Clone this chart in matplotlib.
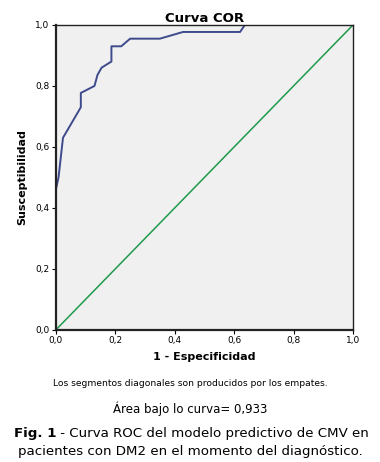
import matplotlib
matplotlib.use("Agg")
import matplotlib.pyplot as plt

# ROC curve points
fpr = [0.0, 0.0, 0.009, 0.024, 0.084, 0.084, 0.13, 0.14, 0.154, 0.187, 0.187,
       0.22, 0.25, 0.35, 0.428, 0.62, 0.636, 1.0]
tpr = [0.0, 0.46, 0.50, 0.63, 0.73, 0.777, 0.80, 0.836, 0.86, 0.88, 0.93,
       0.93, 0.955, 0.955, 0.977, 0.977, 1.0, 1.0]
ref_line = [0.0, 1.0]
ticks = [0.0, 0.2, 0.4, 0.6, 0.8, 1.0]
tick_labels = ["0,0", "0,2", "0,4", "0,6", "0,8", "1,0"]

fig = plt.figure(figsize=(3.8, 4.62), dpi=100)
ax = fig.add_axes([0.147, 0.286, 0.782, 0.660])
ax.set_facecolor("#f0f0f0")

ax.plot(ref_line, ref_line, color="#1f9a4c", lw=1.1)
ax.plot(fpr, tpr, color="#3d4a8c", lw=1.4)

ax.set_xlim(0, 1)
ax.set_ylim(0, 1)
ax.set_xticks(ticks)
ax.set_xticklabels(tick_labels)
ax.set_yticks(ticks)
ax.set_yticklabels(tick_labels)
ax.tick_params(labelsize=6.5, length=3, width=0.8, pad=1.5)
for s in ax.spines.values():
    s.set_color("#222222")
    s.set_linewidth(1.0)
ax.spines["left"].set_linewidth(1.6)
ax.spines["bottom"].set_linewidth(1.6)

ax.set_title("Curva COR", fontsize=9.5, fontweight="bold", pad=2)
ax.set_xlabel("1 - Especificidad", fontsize=8, fontweight="bold", labelpad=5)
ax.set_ylabel("Susceptibilidad", fontsize=8, fontweight="bold", labelpad=6)

fig.text(0.5, 1 - 384 / 462, "Los segmentos diagonales son producidos por los empates.",
         ha="center", va="center", fontsize=6.6)
fig.text(0.5, 1 - 409 / 462, "Área bajo lo curva= 0,933",
         ha="center", va="center", fontsize=8.5)

# caption: bold "Fig. 1" followed by normal text
bold = fig.text(14 / 380, 1 - 433 / 462, "Fig. 1", ha="left", va="center",
                fontsize=9.6, fontweight="bold")
ax.annotate(" - Curva ROC del modelo predictivo de CMV en",
            xy=(1, 0.5), xycoords=bold, ha="left", va="center", fontsize=9.6,
            annotation_clip=False)
fig.text(0.5, 1 - 451 / 462,
         "pacientes con DM2 en el momento del diagnóstico.",
         ha="center", va="center", fontsize=9.6)

fig.savefig("out.png", dpi=100)
